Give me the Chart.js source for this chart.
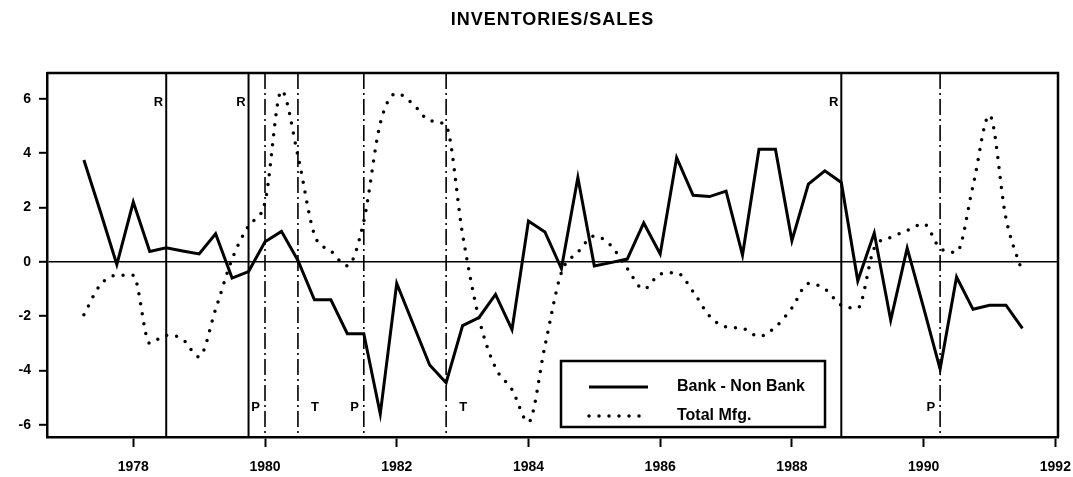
<!DOCTYPE html>
<html>
<head>
<meta charset="utf-8">
<script src="https://cdn.jsdelivr.net/npm/chart.js@4"></script>
<style>
  body { margin: 0; background: #fff; }
  #wrap { width: 1073px; height: 477px; position: relative; }
</style>
</head>
<body>
<div id="wrap"><canvas id="chart"></canvas></div>
<script>
// quarterly data, 1977Q2 .. 1991Q3
var quarters = [
  1977.25, 1977.5, 1977.75, 1978.0, 1978.25, 1978.5, 1978.75, 1979.0,
  1979.25, 1979.5, 1979.75, 1980.0, 1980.25, 1980.5, 1980.75, 1981.0,
  1981.25, 1981.5, 1981.75, 1982.0, 1982.25, 1982.5, 1982.75, 1983.0,
  1983.25, 1983.5, 1983.75, 1984.0, 1984.25, 1984.5, 1984.75, 1985.0,
  1985.25, 1985.5, 1985.75, 1986.0, 1986.25, 1986.5, 1986.75, 1987.0,
  1987.25, 1987.5, 1987.75, 1988.0, 1988.25, 1988.5, 1988.75, 1989.0,
  1989.25, 1989.5, 1989.75, 1990.0, 1990.25, 1990.5, 1990.75, 1991.0,
  1991.25, 1991.5
];
var bankNonBank = [
  3.75, 1.85, -0.1, 2.2, 0.38, 0.52, 0.4, 0.29,
  1.03, -0.6, -0.36, 0.74, 1.12, 0.05, -1.4, -1.4,
  -2.65, -2.65, -5.6, -0.8, -2.3, -3.8, -4.45, -2.35,
  -2.05, -1.2, -2.5, 1.5, 1.1, -0.25, 3.1, -0.15,
  -0.03, 0.1, 1.43, 0.29, 3.83, 2.45, 2.4, 2.6,
  0.25, 4.14, 4.14, 0.78, 2.86, 3.35, 2.92, -0.7,
  1.06, -2.15, 0.5, -1.7, -3.95, -0.56, -1.75, -1.6,
  -1.6, -2.45
];
var totalMfg = [
  -1.95, -0.85, -0.5, -0.5, -3.0, -2.7, -2.85, -3.5,
  -1.75, 0.1, 1.33, 2.2, 6.3, 3.9, 1.0, 0.4,
  -0.15, 1.5, 5.1, 6.2, 5.8, 5.2, 5.0, 1.0,
  -2.1, -3.9, -4.7, -5.9, -3.1, -0.4, 0.35, 0.95,
  0.6, -0.25, -1.0, -0.45, -0.4, -1.1, -2.0, -2.4,
  -2.45, -2.75, -2.4, -1.7, -0.8, -1.0, -1.6, -1.7,
  0.5, 0.9, 1.15, 1.4, 0.5, 0.35, 2.8, 5.4,
  1.6, -0.4
];
var seriesNames = ["Bank - Non Bank", "Total Mfg."];
var xTicks = [1978, 1980, 1982, 1984, 1986, 1988, 1990, 1992];
var yTicks = [-6, -4, -2, 0, 2, 4, 6];
// turning points: R solid, P and T dash-dot
var eventDates = [1978.5, 1979.75, 1980.0, 1980.5, 1981.5, 1982.75, 1988.75, 1990.25];
var eventLabels = ["R", "R", "P", "T", "P", "T", "R", "P"];
var chartTitle = "INVENTORIES/SALES";

var FONT = '"Liberation Sans", Arial, sans-serif';

function pts(vals) {
  return quarters.map(function (q, i) { return { x: q, y: vals[i] }; });
}

//Draws the frame, turning point lines, legend and title
var decor = {
  id: "decor",
  beforeDatasetsDraw: function (chart) {
    var ctx = chart.ctx, a = chart.chartArea, xs = chart.scales.x;
    ctx.save();
    for (var i = 0; i < eventDates.length; i++) {
      var px = xs.getPixelForValue(eventDates[i]);
      var lab = eventLabels[i];
      ctx.strokeStyle = "#000";
      if (lab === "R") {
        ctx.lineWidth = 2;
        ctx.setLineDash([]);
      } else {
        ctx.lineWidth = 1.6;
        ctx.setLineDash([16, 4, 2, 4]);
      }
      ctx.beginPath();
      ctx.moveTo(px, a.top);
      ctx.lineTo(px, a.bottom);
      ctx.stroke();
      ctx.setLineDash([]);
      ctx.fillStyle = "#000";
      ctx.font = "bold 13px " + FONT;
      ctx.textBaseline = "middle";
      if (lab === "R") {
        ctx.textAlign = "right";
        ctx.fillText(lab, px - 3, 102);
      } else if (lab === "P") {
        ctx.textAlign = "right";
        ctx.fillText(lab, px - 5, 407);
      } else {
        ctx.textAlign = "left";
        ctx.fillText(lab, px + 13, 407);
      }
    }
    ctx.restore();
  },
  afterDraw: function (chart) {
    var ctx = chart.ctx, a = chart.chartArea;
    ctx.save();
    // top and right of the frame
    ctx.strokeStyle = "#000";
    ctx.lineWidth = 2.5;
    ctx.beginPath();
    ctx.moveTo(a.left, a.top);
    ctx.lineTo(a.right, a.top);
    ctx.lineTo(a.right, a.bottom);
    ctx.stroke();

    // legend box
    var lx = 561, ly = 361, lw = 264, lh = 66;
    ctx.fillStyle = "#fff";
    ctx.fillRect(lx, ly, lw, lh);
    ctx.lineWidth = 2.5;
    ctx.strokeRect(lx, ly, lw, lh);
    var ds = chart.data.datasets;
    var rows = [387, 416];
    for (var i = 0; i < ds.length; i++) {
      ctx.strokeStyle = "#000";
      ctx.lineWidth = ds[i].borderWidth;
      ctx.lineCap = ds[i].borderCapStyle || "butt";
      ctx.setLineDash(ds[i].borderDash || []);
      ctx.beginPath();
      ctx.moveTo(589, rows[i]);
      ctx.lineTo(648, rows[i]);
      ctx.stroke();
      ctx.setLineDash([]);
      ctx.fillStyle = "#000";
      ctx.font = "bold 16px " + FONT;
      ctx.textAlign = "left";
      ctx.textBaseline = "middle";
      ctx.fillText(ds[i].label, 677, rows[i]);
    }

    // title
    ctx.font = "bold 18px " + FONT;
    ctx.letterSpacing = "1px";
    ctx.textAlign = "center";
    ctx.textBaseline = "middle";
    ctx.fillText(chartTitle, (a.left + a.right) / 2, 20);
    ctx.restore();
  }
};

var chart = new Chart(document.getElementById("chart"), {
  type: "line",
  data: {
    datasets: [
      {
        label: seriesNames[0],
        data: pts(bankNonBank),
        borderColor: "#000",
        borderWidth: 3,
        borderJoinStyle: "miter",
        pointRadius: 0,
        tension: 0
      },
      {
        label: seriesNames[1],
        data: pts(totalMfg),
        borderColor: "#000",
        borderWidth: 3.5,
        borderDash: [0, 10],
        borderCapStyle: "round",
        pointRadius: 0,
        cubicInterpolationMode: "monotone"
      }
    ]
  },
  options: {
    responsive: true,
    maintainAspectRatio: false,
    animation: false,
    layout: { padding: { top: 73, right: 15, left: 0, bottom: 0 } },
    plugins: {
      legend: { display: false },
      title: { display: false },
      tooltip: { enabled: false }
    },
    scales: {
      x: {
        type: "linear",
        min: 1976.69,
        max: 1992.04,
        afterBuildTicks: function (s) {
          s.ticks = xTicks.map(function (v) { return { value: v }; });
        },
        afterFit: function (s) {
          s.height = 40;
          s.paddingLeft = 0;
          s.paddingRight = 0;
        },
        border: { display: true, color: "#000", width: 2.5 },
        grid: {
          drawOnChartArea: false,
          tickLength: 10,
          tickColor: "#000",
          tickWidth: 2
        },
        ticks: {
          color: "#000",
          padding: 12,
          maxRotation: 0,
          font: { family: FONT, size: 14, weight: "bold" },
          callback: function (v) { return String(v); }
        }
      },
      y: {
        min: -6.45,
        max: 6.95,
        afterBuildTicks: function (s) {
          s.ticks = yTicks.map(function (v) { return { value: v }; });
        },
        afterFit: function (s) {
          s.width = 47;
          s.paddingTop = 0;
          s.paddingBottom = 0;
        },
        border: { display: true, color: "#000", width: 2.5 },
        grid: {
          drawOnChartArea: true,
          color: function (c) { return c.tick && c.tick.value === 0 ? "#000" : "rgba(0,0,0,0)"; },
          lineWidth: 1.6,
          tickLength: 8,
          tickColor: "#000",
          tickWidth: 2
        },
        ticks: {
          color: "#000",
          padding: 8,
          font: { family: FONT, size: 14, weight: "bold" },
          callback: function (v) { return String(v); }
        }
      }
    }
  },
  plugins: [decor]
});
</script>
</body>
</html>
